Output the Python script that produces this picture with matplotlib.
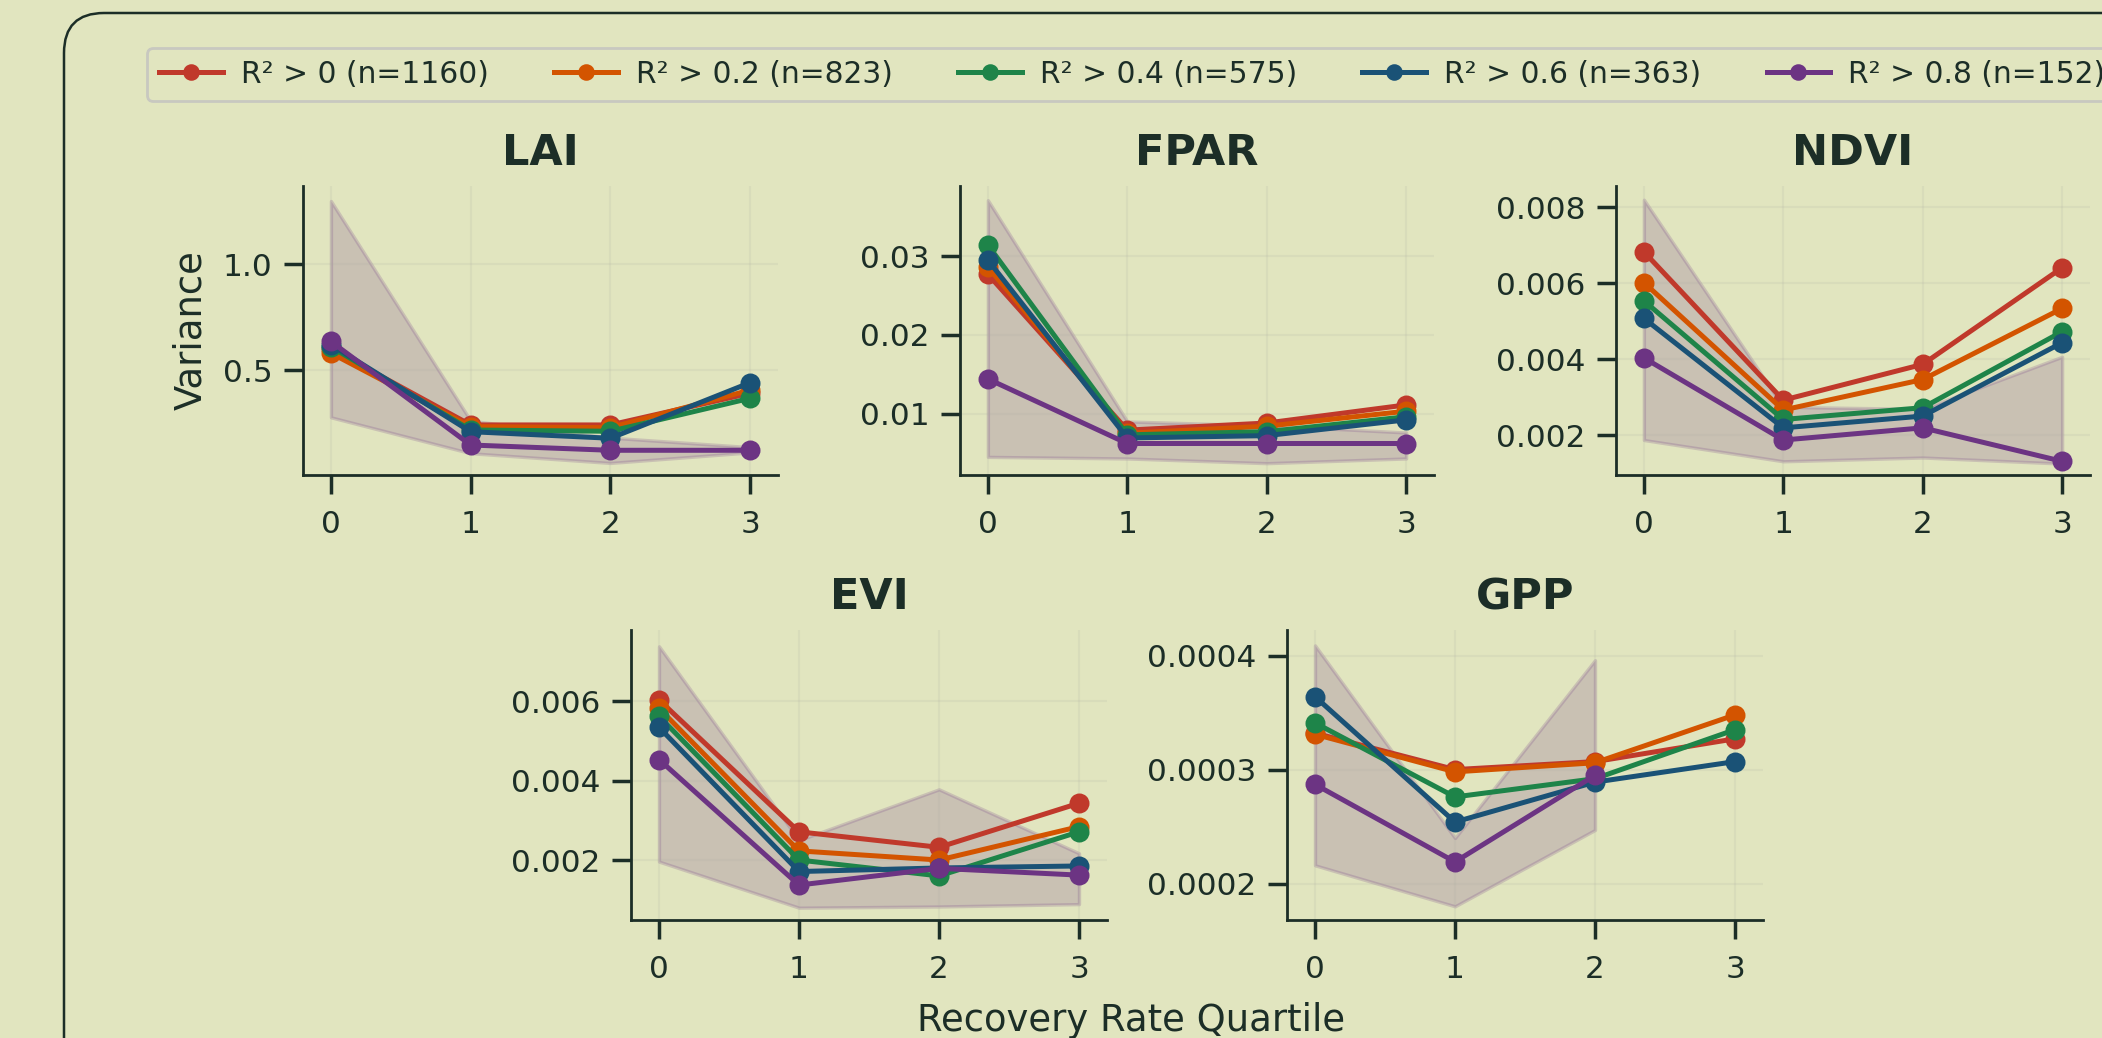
import numpy as np
import matplotlib.pyplot as plt
from matplotlib.patches import FancyBboxPatch

# Quartiles on the x axis
quartiles = [0, 1, 2, 3]

# Series labels and colours
labels = ["R² > 0 (n=1160)", "R² > 0.2 (n=823)", "R² > 0.4 (n=575)",
          "R² > 0.6 (n=363)", "R² > 0.8 (n=152)"]
colors = ["#c0392b", "#d35400", "#1e8449", "#1a5276", "#6c3483"]

# Variance per quartile, one row per R² threshold
lai = [[0.600, 0.240, 0.240, 0.390],
       [0.580, 0.232, 0.227, 0.405],
       [0.610, 0.216, 0.210, 0.366],
       [0.620, 0.208, 0.177, 0.440],
       [0.635, 0.145, 0.120, 0.120]]
lai_lo = [0.276, 0.106, 0.060, 0.110]
lai_hi = [1.300, 0.260, 0.180, 0.135]

fpar = [[0.0277, 0.0079, 0.0088, 0.0111],
        [0.0286, 0.0075, 0.0084, 0.0103],
        [0.0314, 0.0073, 0.0077, 0.0096],
        [0.0295, 0.0069, 0.0072, 0.0092],
        [0.0144, 0.0062, 0.0062, 0.0062]]
fpar_lo = [0.0045, 0.0043, 0.0037, 0.0043]
fpar_hi = [0.0371, 0.0090, 0.0085, 0.0076]

ndvi = [[0.00683, 0.00293, 0.00387, 0.00641],
        [0.00602, 0.00267, 0.00347, 0.00534],
        [0.00554, 0.00242, 0.00273, 0.00473],
        [0.00508, 0.00220, 0.00251, 0.00444],
        [0.00404, 0.00188, 0.00220, 0.00132]]
ndvi_lo = [0.00188, 0.00132, 0.00142, 0.00126]
ndvi_hi = [0.00820, 0.00275, 0.00270, 0.00407]

evi = [[0.00603, 0.00271, 0.00232, 0.00343],
       [0.00582, 0.00223, 0.00200, 0.00284],
       [0.00562, 0.00200, 0.00160, 0.00271],
       [0.00534, 0.00171, 0.00180, 0.00185],
       [0.00453, 0.00137, 0.00179, 0.00162]]
evi_lo = [0.00196, 0.00080, 0.00083, 0.00089]
evi_hi = [0.00738, 0.00250, 0.00378, 0.00217]

gpp = [[0.000332, 0.000300, 0.000307, 0.000327],
       [0.000331, 0.000298, 0.000306, 0.000348],
       [0.000341, 0.000276, 0.000292, 0.000335],
       [0.000364, 0.000254, 0.000289, 0.000307],
       [0.000287, 0.000219, 0.000295, np.nan]]
gpp_lo = [0.000216, 0.000180, 0.000247, np.nan]
gpp_hi = [0.000409, 0.000240, 0.000396, np.nan]

bg = "#e1e5bf"
ink = "#1c2e27"

plt.rcParams["font.family"] = "DejaVu Sans"
plt.rcParams["text.color"] = ink
plt.rcParams["axes.labelcolor"] = ink
plt.rcParams["xtick.color"] = ink
plt.rcParams["ytick.color"] = ink

fig = plt.figure(figsize=(10.51, 5.19), dpi=200, facecolor=bg)
W, H = 2102, 1038

# axes boxes in pixels: left, top, right, bottom
panels = [
    ("LAI", lai, lai_lo, lai_hi, (303, 186, 778, 475), (0.003, 1.371)),
    ("FPAR", fpar, fpar_lo, fpar_hi, (960, 186, 1434, 475), (0.0022, 0.0389)),
    ("NDVI", ndvi, ndvi_lo, ndvi_hi, (1616, 186, 2090, 475), (0.00096, 0.00856)),
    ("EVI", evi, evi_lo, evi_hi, (631, 630, 1107, 920), (0.00049, 0.00779)),
    ("GPP", gpp, gpp_lo, gpp_hi, (1287, 630, 1763, 920), (0.000168, 0.0004225)),
]

handles = []
for i, (name, data, lo, hi, box, ylim) in enumerate(panels):
    l, t, r, b = box
    ax = fig.add_axes([l / W, 1 - b / H, (r - l) / W, (b - t) / H])
    ax.set_facecolor(bg)

    ax.fill_between(quartiles, lo, hi, color=colors[-1], alpha=0.2,
                    linewidth=1.2, zorder=1)
    for k in range(len(labels)):
        line, = ax.plot(quartiles, data[k], "-o", color=colors[k], lw=1.8,
                        ms=6.2, label=labels[k], zorder=3 + k)
        if i == 0:
            handles.append(line)

    ax.set_xlim(-0.2, 3.2)
    ax.set_ylim(*ylim)
    ax.set_xticks(quartiles)
    ax.set_title(name, fontsize=15.5, fontweight="bold", pad=7.5, color=ink)
    ax.grid(True, color="#a9a9a0", alpha=0.15, lw=0.8)
    ax.tick_params(axis="both", labelsize=11.2, length=7, width=1.25)
    ax.tick_params(axis="x", pad=5.5)
    ax.tick_params(axis="y", pad=4)
    for side in ["top", "right"]:
        ax.spines[side].set_visible(False)
    for side in ["left", "bottom"]:
        ax.spines[side].set_color(ink)
        ax.spines[side].set_linewidth(1.0)
    if name == "LAI":
        ax.set_ylabel("Variance", fontsize=13.3, labelpad=5)

fig.text(1131 / W, 7 / H, "Recovery Rate Quartile", fontsize=13.3,
         ha="center", va="baseline", color=ink)

leg = fig.legend(handles=handles, loc="upper left", ncol=5,
                 bbox_to_anchor=(147 / W, 1 - 48 / H), fontsize=10.7,
                 handlelength=2.15, handletextpad=0.6, columnspacing=2.2,
                 markerscale=0.8, frameon=True, facecolor=bg,
                 edgecolor="#c8c8c0", framealpha=1.0, borderaxespad=0)
for txt in leg.get_texts():
    txt.set_color(ink)

# rounded border running off the right and bottom edges
border = FancyBboxPatch((64 / 200, -1.0), 12.0, (H - 13) / 200 + 1.0,
                        boxstyle="round,pad=0,rounding_size=0.2",
                        transform=fig.dpi_scale_trans, facecolor="none",
                        edgecolor=ink, linewidth=0.9, clip_on=False)
fig.add_artist(border)

plt.savefig("out.png", dpi=200, facecolor=bg)
